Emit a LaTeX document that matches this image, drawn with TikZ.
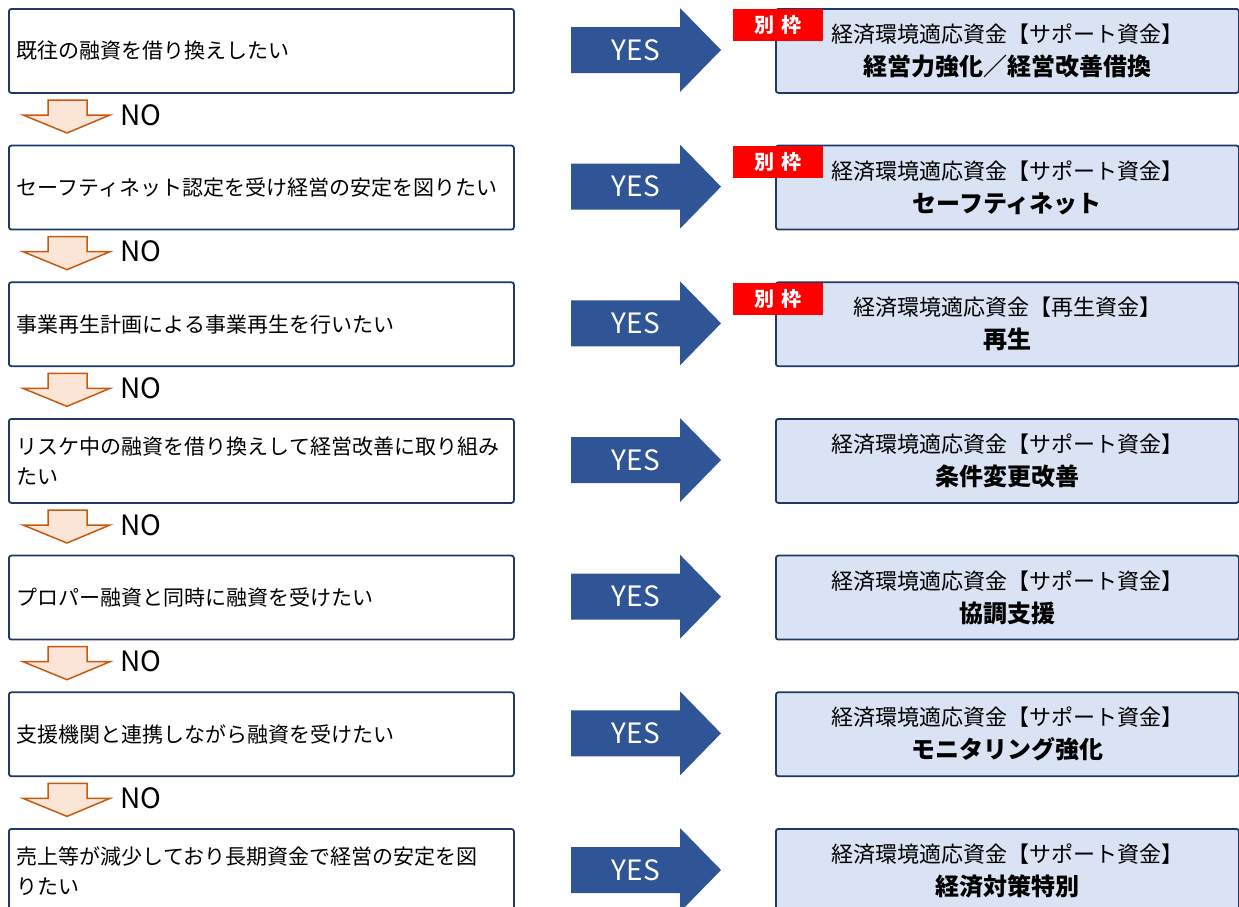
\documentclass[tikz,border=0pt]{standalone}
\usepackage{fontspec}
\setmainfont{Noto Sans CJK JP}
\usetikzlibrary{positioning}
\definecolor{boxline}{HTML}{1F3864}
\definecolor{fundfill}{HTML}{DAE3F3}
\definecolor{yesblue}{HTML}{2F5597}
\definecolor{nofill}{HTML}{FBE5D6}
\definecolor{noline}{HTML}{C55A11}
\definecolor{tagred}{HTML}{FF0000}

\begin{document}
\begin{tikzpicture}[x=1pt, y=-1pt,
  ask/.style={draw=boxline, line width=1.8pt, rounded corners=2.5pt, fill=white,
    anchor=north west, minimum height=84pt, text width=489pt, inner xsep=8pt,
    align=left, font=\fontsize{21}{30}\selectfont},
  fund/.style={draw=boxline, line width=1.8pt, rounded corners=2.5pt, fill=fundfill,
    anchor=north west, minimum width=463pt, minimum height=84pt,
    align=center, font=\fontsize{22}{33}\selectfont},
  tagbox/.style={fill=tagred, text=white, anchor=north west, minimum width=90pt,
    minimum height=32pt, inner sep=0pt, font=\bfseries\fontsize{20}{20}\selectfont},
  yesarrow/.style={fill=yesblue},
  yeslabel/.style={text=white, font=\fontsize{28}{28}\selectfont},
  noarrow/.style={fill=nofill, draw=noline, line width=1.5pt, line join=miter},
  nolabel/.style={font=\fontsize{28}{28}\selectfont}]
  \useasboundingbox (0,0) rectangle (1239,906);
  \clip (0,0) rectangle (1239,906);
  \foreach \i/\ask/\title/\fund/\tagged in {
      1/{既往の融資を借り換えしたい}/{経済環境適応資金【サポート資金】}/{経営力強化／経営改善借換}/1,
      2/{セーフティネット認定を受け経営の安定を図りたい}/{経済環境適応資金【サポート資金】}/{セーフティネット}/1,
      3/{事業再生計画による事業再生を行いたい}/{経済環境適応資金【再生資金】}/{再生}/1,
      4/{リスケ中の融資を借り換えして経営改善に取り組み\\たい}/{経済環境適応資金【サポート資金】}/{条件変更改善}/0,
      5/{プロパー融資と同時に融資を受けたい}/{経済環境適応資金【サポート資金】}/{協調支援}/0,
      6/{支援機関と連携しながら融資を受けたい}/{経済環境適応資金【サポート資金】}/{モニタリング強化}/0,
      7/{売上等が減少しており長期資金で経営の安定を図\\りたい}/{経済環境適応資金【サポート資金】}/{経済対策特別}/0} {
    \pgfmathsetmacro\t{8+136.67*(\i-1)}
    \pgfmathsetmacro\c{\t+42}
    % question and fund boxes
    \node[ask] (q\i) at (8,\t) {\ask};
    \node[fund] (f\i) at (775,\t) {\title\\{\bfseries\fontsize{24}{33}\selectfont\fund}};
    \ifnum\tagged=1
      \node[tagbox] (t\i) at (733,\t+1) {別\hspace{7pt}枠};
    \fi
    % yes arrow
    \fill[yesarrow] (571,\c-23) -- (680,\c-23) -- (680,\c-42) -- (721,\c)
      -- (680,\c+42) -- (680,\c+23) -- (571,\c+23) -- cycle;
    \node[yeslabel] (y\i) at (636,\c) {YES};
  }
  % no arrows
  \foreach \i in {1,...,6} {
    \pgfmathsetmacro\b{8+136.67*(\i-1)+84}
    \draw[noarrow] (48,\b+8) -- (87,\b+8) -- (87,\b+23) -- (110,\b+23)
      -- (67,\b+41) -- (23,\b+23) -- (48,\b+23) -- cycle;
    \node[nolabel] (n\i) at (141,\b+23) {NO};
  }
\end{tikzpicture}
\end{document}
